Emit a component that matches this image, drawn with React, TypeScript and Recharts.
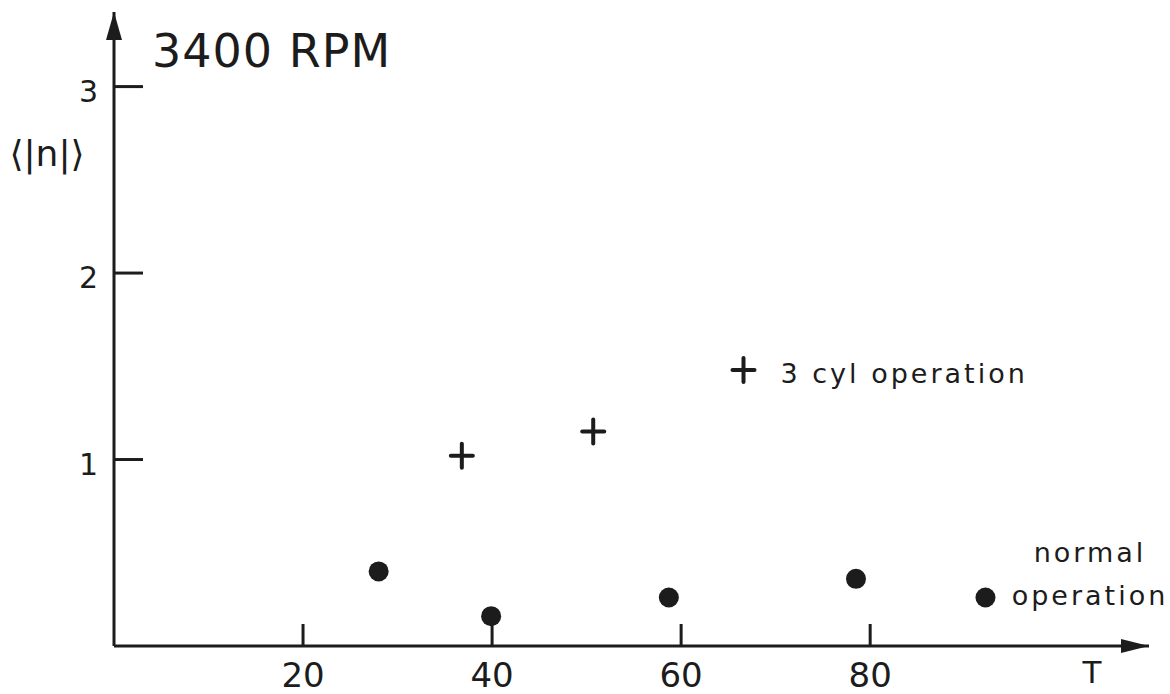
import { ScatterChart, Scatter, XAxis, YAxis, ReferenceDot } from 'recharts'

const normalT = [28.0, 39.9, 58.7, 78.5, 92.2]
const normalN = [0.4, 0.16, 0.26, 0.36, 0.26]
const cylT = [36.8, 50.7]
const cylN = [1.02, 1.15]
const xTicks = [20, 40, 60, 80]
const yTicks = [1, 2, 3]
const legendCross = { t: 66.6, n: 1.48 }

const INK = '#1c1c1c'
const FONT = '"DejaVu Sans", sans-serif'

const normalData = normalT.map((t, i) => ({ t, n: normalN[i] }))
const cylData = cylT.map((t, i) => ({ t, n: cylN[i] }))

const Dot = ({ cx, cy }: any) => <circle cx={cx} cy={cy} r={10} fill={INK} />

const Cross = ({ cx, cy }: any) => (
  <g stroke={INK} strokeWidth={4} strokeLinecap="round">
    <line x1={cx - 11} y1={cy} x2={cx + 11} y2={cy} />
    <line x1={cx} y1={cy - 12} x2={cx} y2={cy + 12} />
  </g>
)

const XTick = ({ x, y, payload }: any) => (
  <g>
    <line x1={x} y1={y} x2={x} y2={y - 22} stroke={INK} strokeWidth={3} />
    <text x={x} y={y + 41} textAnchor="middle" fontSize={34} fontFamily={FONT} fill={INK}>
      {payload.value}
    </text>
  </g>
)

const YTick = ({ x, y, payload }: any) => (
  <g>
    <line x1={x} y1={y} x2={x + 29} y2={y} stroke={INK} strokeWidth={3} />
    <text x={x - 16} y={y + 15} textAnchor="end" fontSize={30} fontFamily={FONT} fill={INK}>
      {payload.value}
    </text>
  </g>
)

const UpArrow = ({ cx, cy }: any) => (
  <polygon points={`${cx},${cy} ${cx - 8},${cy + 28} ${cx + 8},${cy + 28}`} fill={INK} />
)

const RightArrow = ({ cx, cy }: any) => (
  <polygon points={`${cx},${cy} ${cx - 28},${cy - 7} ${cx - 28},${cy + 7}`} fill={INK} />
)

const LegendMark = ({ cx, cy }: any) => (
  <g>
    <Cross cx={cx} cy={cy} />
    <text x={cx + 37} y={cy + 13} fontSize={27} letterSpacing={3} fontFamily={FONT} fill={INK}>
      3 cyl operation
    </text>
  </g>
)

export default function App() {
  return (
    <div style={{ position: 'absolute', left: 0, top: 0, width: 1170, height: 694, background: '#fff' }}>
      <ScatterChart width={1170} height={694} margin={{ top: 12, right: 21, bottom: 0, left: 0 }}>
        <XAxis
          type="number"
          dataKey="t"
          domain={[0, 109.5]}
          ticks={xTicks}
          height={48}
          tickSize={0}
          tickMargin={0}
          tickLine={false}
          axisLine={{ stroke: INK, strokeWidth: 3 }}
          tick={<XTick />}
        />
        <YAxis
          type="number"
          dataKey="n"
          domain={[0, 3.4]}
          ticks={yTicks}
          width={114}
          tickSize={0}
          tickMargin={0}
          tickLine={false}
          axisLine={{ stroke: INK, strokeWidth: 3 }}
          tick={<YTick />}
        />
        <ReferenceDot x={0} y={3.4} ifOverflow="visible" shape={<UpArrow />} />
        <ReferenceDot x={109.5} y={0} ifOverflow="visible" shape={<RightArrow />} />
        <Scatter data={normalData} shape={<Dot />} isAnimationActive={false} />
        <Scatter data={cylData} shape={<Cross />} isAnimationActive={false} />
        <ReferenceDot x={legendCross.t} y={legendCross.n} ifOverflow="visible" shape={<LegendMark />} />
      </ScatterChart>
      <svg
        width={1170}
        height={694}
        style={{ position: 'absolute', left: 0, top: 0, pointerEvents: 'none' }}
        fontFamily={FONT}
        fill={INK}
      >
        <text x={152} y={67} fontSize={46} letterSpacing={1}>3400 RPM</text>
        <text x={47} y={166} fontSize={36} textAnchor="middle">⟨|n|⟩</text>
        <text x={1090} y={562} fontSize={27} letterSpacing={3} textAnchor="middle">normal</text>
        <text x={1090} y={605} fontSize={27} letterSpacing={3} textAnchor="middle">operation</text>
        <text x={1092} y={683} fontSize={31} textAnchor="middle">T</text>
      </svg>
    </div>
  )
}
